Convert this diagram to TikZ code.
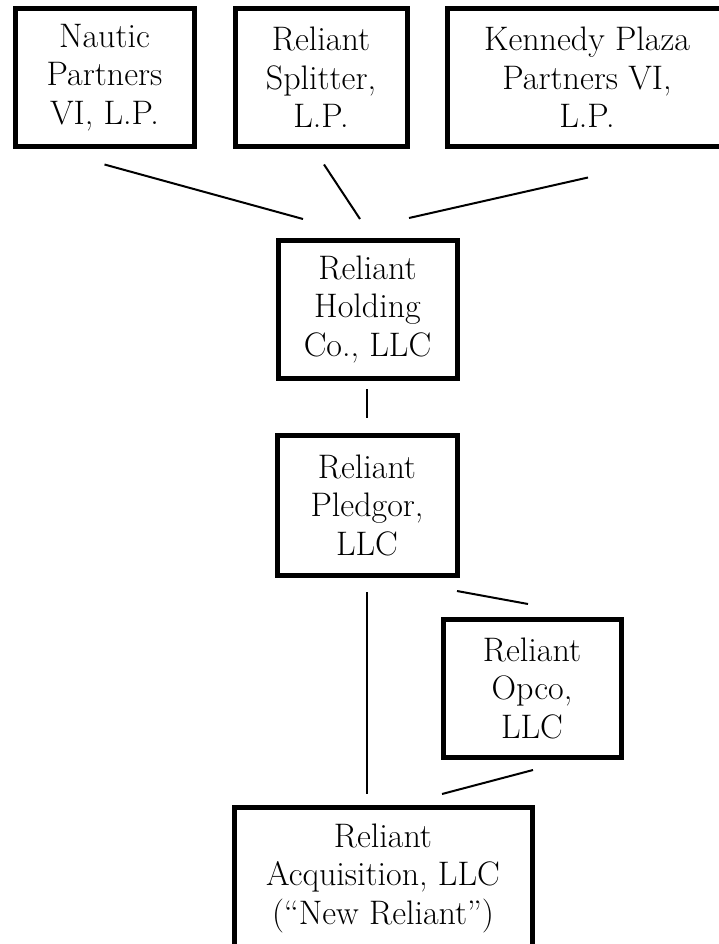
\documentclass[tikz,border=0pt]{standalone}
\usetikzlibrary{calc}

\tikzset{every picture/.style={line width=0.75pt}}
\tikzset{
  entity/.style={draw, line width=5pt, outer sep=0pt, inner sep=0pt, align=center,
    font=\fontsize{34}{38.5}\selectfont, minimum width=179pt, minimum height=138pt},
  link/.style={line width=2pt},
}

\begin{document}
\begin{tikzpicture}[x=1pt,y=1pt,yscale=-1,xscale=1]
%set diagram left start at 0, and has height of 944
\useasboundingbox (0,0) rectangle (719,944);
\clip (0,0) rectangle (719,944);

%Shape: Rectangle [top row]
\node [entity] (nautic) at (104.5,77.5) {Nautic\\Partners\\VI, L.P.};
\node [entity, minimum width=172pt] (splitter) at (321,77.5) {Reliant\\Splitter,\\L.P.};
\node [entity, minimum width=280pt] (kennedy) at (587,77.5) {Kennedy Plaza\\Partners VI,\\L.P.};
%Shape: Rectangle [middle]
\node [entity] (holding) at (367.5,309) {Reliant\\Holding\\Co., LLC};
\node [entity, minimum width=180pt, minimum height=140pt] (pledgor) at (367,505) {Reliant\\Pledgor,\\LLC};
\node [entity, minimum width=178pt] (opco) at (532,688) {Reliant\\Opco,\\LLC};
%Shape: Rectangle [bottom]
\node [entity, minimum width=298pt, minimum height=142pt] (acquisition) at (383,878) {Reliant\\Acquisition, LLC\\(“New Reliant”)};

%Straight Lines
\draw [link] ($(nautic.south)+(0,18)$) -- ($(holding.north west)+(25,-21)$);
\draw [link] ($(splitter.south)+(3,18)$) -- ($(holding.north)+(-7.5,-21)$);
\draw [link] ($(kennedy.south)+(1,31)$) -- ($(holding.north east)+(-48,-22)$);
%Straight Lines
\draw [link] ($(pledgor.north |- holding.south)+(0,11)$) -- ($(pledgor.north)+(0,-17)$);
\draw [link] ($(pledgor.south)+(0,17)$) -- ($(pledgor.south |- acquisition.north)+(0,-13)$);
\draw [link] ($(pledgor.south east)+(0,16)$) -- ($(opco.north)+(-4,-15)$);
\draw [link] ($(opco.south)+(1,13)$) -- ($(acquisition.north)+(59,-13)$);

\end{tikzpicture}
\end{document}
